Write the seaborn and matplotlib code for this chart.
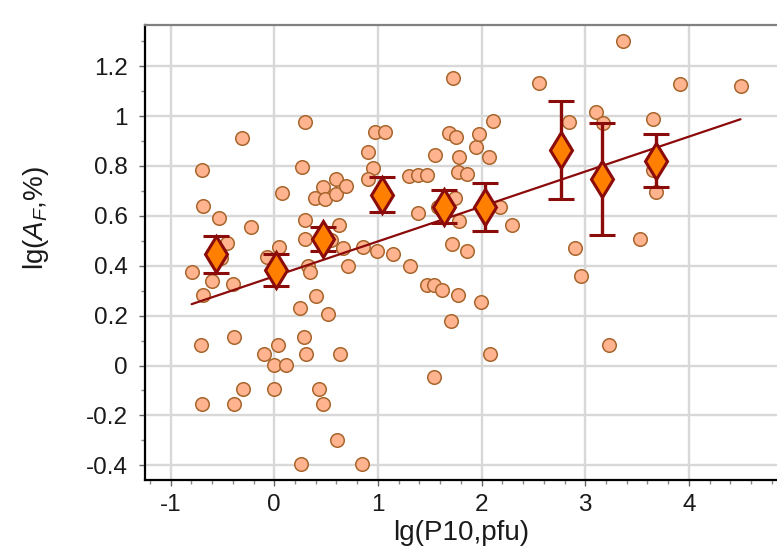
import numpy as np
import pandas as pd
import matplotlib
matplotlib.use("Agg")
import matplotlib.pyplot as plt
import seaborn as sns
from matplotlib.ticker import MultipleLocator, FuncFormatter

# ---- data: individual observations ----
x_vals = [-0.797, -0.707, -0.697, -0.694, -0.690, -0.690, -0.601, -0.530, -0.514, -0.459,
          -0.395, -0.389, -0.389, -0.307, -0.297, -0.221, -0.101, -0.073, -0.003, 0.000,
          0.039, 0.042, 0.074, 0.113, 0.252, 0.262, 0.272, 0.290, 0.297, 0.297,
          0.299, 0.303, 0.328, 0.344, 0.392, 0.400, 0.428, 0.473, 0.474, 0.491,
          0.519, 0.547, 0.592, 0.595, 0.602, 0.627, 0.633, 0.660, 0.696, 0.711,
          0.843, 0.852, 0.907, 0.949, 0.907, 0.971, 0.993, 1.067, 1.148, 1.302,
          1.309, 1.389, 1.389, 1.470, 1.470, 1.540, 1.540, 1.550, 1.581, 1.614,
          1.688, 1.701, 1.710, 1.726, 1.743, 1.753, 1.775, 1.775, 1.785, 1.785,
          1.856, 1.856, 1.945, 1.977, 1.994, 2.073, 2.080, 2.112, 2.176, 2.295,
          2.553, 2.842, 2.900, 2.955, 3.102, 3.173, 3.225, 3.366, 3.526, 3.649,
          3.649, 3.687, 3.919, 4.498]
y_vals = [0.376, 0.082, -0.154, 0.784, 0.640, 0.283, 0.339, 0.590, 0.430, 0.490,
          0.325, 0.113, -0.154, 0.913, -0.094, 0.554, 0.045, 0.434, 0.002, -0.094,
          0.082, 0.474, 0.690, 0.002, 0.232, -0.395, 0.797, 0.113, 0.583, 0.506,
          0.977, 0.045, 0.399, 0.376, 0.670, 0.280, -0.094, -0.154, 0.717, 0.669,
          0.205, 0.503, 0.687, 0.747, -0.300, 0.563, 0.045, 0.470, 0.719, 0.399,
          -0.395, 0.476, 0.857, 0.790, 0.746, 0.937, 0.460, 0.937, 0.447, 0.760,
          0.399, 0.764, 0.612, 0.764, 0.323, 0.323, -0.047, 0.844, 0.637, 0.303,
          0.931, 0.178, 0.487, 1.153, 0.670, 0.915, 0.283, 0.777, 0.834, 0.580,
          0.768, 0.460, 0.875, 0.928, 0.253, 0.837, 0.045, 0.981, 0.637, 0.563,
          1.131, 0.977, 0.472, 0.360, 1.015, 0.971, 0.081, 1.302, 0.506, 0.988,
          0.784, 0.697, 1.127, 1.120]

# ---- data: binned means with error bars ----
bin_x = [-0.562, 0.016, 0.467, 1.036, 1.639, 2.032, 2.765, 3.157, 3.687]
bin_mean = [0.446, 0.383, 0.507, 0.684, 0.637, 0.635, 0.864, 0.747, 0.821]
bin_err = [0.074, 0.063, 0.048, 0.070, 0.065, 0.096, 0.198, 0.224, 0.107]

# ---- data: linear fit ----
fit_slope = 0.140
fit_intercept = 0.3575

x_ticks = [-1, 0, 1, 2, 3, 4]
y_ticks = [-0.4, -0.2, 0, 0.2, 0.4, 0.6, 0.8, 1.0, 1.2]

sns.set_theme(style="white")
plt.rcParams['font.family'] = ['Liberation Sans', 'DejaVu Sans']
plt.rcParams['axes.unicode_minus'] = False
plt.rcParams['mathtext.fontset'] = 'custom'
plt.rcParams['mathtext.rm'] = 'Liberation Sans'
plt.rcParams['mathtext.it'] = 'Liberation Sans:italic'

fig = plt.figure(figsize=(7.77, 5.54), dpi=100)
ax = fig.add_axes([145/777, 74/554, 632/777, 455/554])

df = pd.DataFrame({"x": x_vals, "y": y_vals})
sns.scatterplot(data=df, x="x", y="y", ax=ax, s=95, color="#FFB38F",
                edgecolor="#A8652B", linewidth=1.1, zorder=3, legend=False)

xf = np.array([min(x_vals), max(x_vals)])
fit_df = pd.DataFrame({"x": xf, "y": fit_intercept + fit_slope * xf})
sns.lineplot(data=fit_df, x="x", y="y", ax=ax, color="#8B0A0A", linewidth=1.6, zorder=4)

ax.errorbar(bin_x, bin_mean, yerr=bin_err, fmt="d", color="#8B0A0A",
            markerfacecolor="#FF8000", markeredgecolor="#8B0A0A",
            markersize=18, markeredgewidth=2.2, ecolor="#8B0A0A",
            elinewidth=2.4, capsize=9.5, capthick=2.4, zorder=5)

ax.set_xlim(-1.247, 4.85)
ax.set_ylim(-0.459, 1.365)
ax.set_xticks(x_ticks)
ax.set_yticks(y_ticks)
ax.xaxis.set_minor_locator(MultipleLocator(0.2))
ax.yaxis.set_minor_locator(MultipleLocator(0.1))
fmt = FuncFormatter(lambda v, p: ("%g" % round(v, 2)))
ax.xaxis.set_major_formatter(fmt)
ax.yaxis.set_major_formatter(fmt)

ax.grid(True, which="major", color="#D8D8D8", linewidth=1.7)
ax.set_axisbelow(True)

ax.tick_params(axis="both", which="major", direction="out", length=4.5, width=1,
               color="#666666", labelsize=17.5, labelcolor="#1a1a1a",
               bottom=True, left=True)
ax.tick_params(axis="x", which="major", pad=5.5)
ax.tick_params(axis="y", which="major", pad=8)
ax.tick_params(axis="both", which="minor", direction="out", length=3, width=1,
               color="#888888", bottom=True, left=True)

for s in ["left", "bottom"]:
    ax.spines[s].set_color("black")
    ax.spines[s].set_linewidth(1.6)
ax.spines["top"].set_color("#808080")
ax.spines["top"].set_linewidth(1.6)
ax.spines["right"].set_visible(False)

ax.set_xlabel("lg(P10,pfu)", fontsize=20, color="#1a1a1a", labelpad=3)
ax.set_ylabel("lg($A_F$,%)", fontsize=20, color="#1a1a1a")
ax.yaxis.set_label_coords(-0.148, 0.576)

fig.savefig("out.png", dpi=100)
